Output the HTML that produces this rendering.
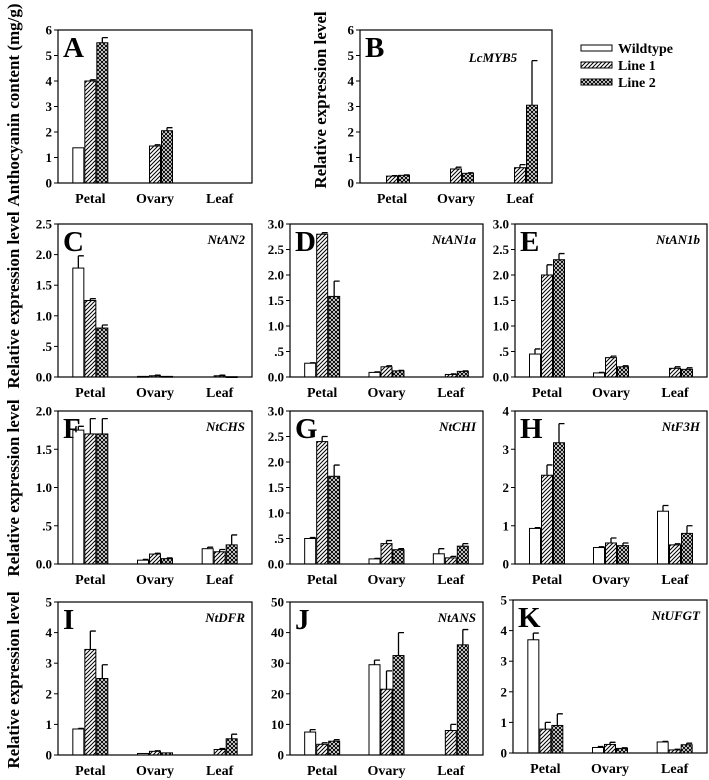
<!DOCTYPE html>
<html><head><meta charset="utf-8"><style>
html,body{margin:0;padding:0;background:#fff;}
svg{display:block;}
text{font-family:"Liberation Serif",serif;}
</style></head><body>
<svg id="fig" width="709" height="780" viewBox="0 0 709 780" xmlns="http://www.w3.org/2000/svg">
<defs>
<pattern id="hatch" patternUnits="userSpaceOnUse" width="4" height="4">
<rect width="4" height="4" fill="#fff"/>
<path d="M-1,1 l2,-2 M0,4 l4,-4 M3,5 l2,-2" stroke="#000" stroke-width="1"/>
</pattern>
<pattern id="cross" patternUnits="userSpaceOnUse" width="4" height="4">
<rect width="4" height="4" fill="#fff"/>
<path d="M0,0 l4,4 M4,0 l-4,4" stroke="#000" stroke-width="1"/>
</pattern>
</defs>
</svg>
<script>
const categories = ["Petal","Ovary","Leaf"];
const seriesNames = ["Wildtype","Line 1","Line 2"];
// values: [series][category]
const A_vals = [[1.38,0,0],[4.0,1.45,0],[5.5,2.05,0]];
const A_err  = [[0,0,0],[0.05,0.05,0],[0.2,0.12,0]];
const A_ticks = ["0","1","2","3","4","5","6"];
const B_vals = [[0,0,0],[0.27,0.55,0.6],[0.3,0.38,3.05]];
const B_err  = [[0,0,0],[0.02,0.07,0.12],[0.02,0.02,1.75]];
const B_ticks = ["0","1","2","3","4","5","6"];
const C_vals = [[1.78,0.01,0],[1.25,0.02,0.02],[0.8,0.01,0.005]];
const C_err  = [[0.2,0,0],[0.03,0.01,0.01],[0.05,0,0]];
const C_ticks = ["0.0",".5","1.0","1.5","2.0","2.5"];
const D_vals = [[0.27,0.09,0],[2.8,0.2,0.05],[1.58,0.12,0.11]];
const D_err  = [[0.01,0.01,0],[0.03,0.02,0.01],[0.3,0.01,0.01]];
const D_ticks = ["0.0",".5","1.0","1.5","2.0","2.5","3.0"];
const E_vals = [[0.45,0.08,0],[2.0,0.38,0.17],[2.3,0.2,0.15]];
const E_err  = [[0.1,0.01,0],[0.2,0.03,0.03],[0.12,0.02,0.03]];
const E_ticks = ["0.0",".5","1.0","1.5","2.0","2.5","3.0"];
const F_vals = [[1.75,0.05,0.2],[1.7,0.13,0.16],[1.7,0.07,0.25]];
const F_err  = [[0.05,0.01,0.02],[0.2,0.01,0.03],[0.2,0.01,0.13]];
const F_ticks = ["0.0",".5","1.0","1.5","2.0"];
const G_vals = [[0.5,0.1,0.2],[2.4,0.4,0.12],[1.72,0.28,0.35]];
const G_err  = [[0.02,0.01,0.1],[0.1,0.06,0.03],[0.22,0.02,0.05]];
const G_ticks = ["0.0",".5","1.0","1.5","2.0","2.5","3.0"];
const H_vals = [[0.93,0.43,1.38],[2.32,0.55,0.5],[3.17,0.48,0.8]];
const H_err  = [[0.02,0.02,0.15],[0.27,0.13,0.03],[0.5,0.07,0.2]];
const H_ticks = ["0","1","2","3","4"];
const I_vals = [[0.85,0.05,0],[3.45,0.12,0.18],[2.5,0.07,0.53]];
const I_err  = [[0.02,0,0],[0.6,0.02,0.03],[0.45,0,0.15]];
const I_ticks = ["0","1","2","3","4","5"];
const J_vals = [[7.5,29.5,0],[3.5,21.5,8],[4.5,32.5,36]];
const J_err  = [[0.8,1.5,0],[0.5,6,2],[0.5,7.5,5]];
const J_ticks = ["0","10","20","30","40","50"];
const K_vals = [[3.7,0.18,0.36],[0.78,0.28,0.1],[0.9,0.15,0.27]];
const K_err  = [[0.22,0.03,0.02],[0.22,0.07,0.02],[0.38,0.02,0.05]];
const K_ticks = ["0","1","2","3","4","5"];

const NS="http://www.w3.org/2000/svg";
const FONT='"Liberation Serif", serif';
const svg=document.getElementById('fig');
function mk(tag,attrs,parent){const e=document.createElementNS(NS,tag);for(const k in attrs)e.setAttribute(k,attrs[k]);if(tag==='text')e.setAttribute('font-family',FONT);(parent||svg).appendChild(e);return e;}
const fills=["#fff","url(#hatch)","url(#cross)"];

function panel(id,letter,gene,x0,y0,x1,y1,vals,err,ticks,geneX,geneY,geneAnchor){
  const g=mk('g',{});
  
  
  const ymax=parseFloat(ticks[ticks.length-1]);
  const ys=v=>y1-(v/ymax)*(y1-y0);
  const bw=(x1-x0)/categories.length;
  const xc=i=>x0+bw*(i+0.5);
  ticks.forEach((t)=>{
    const v=parseFloat(t.startsWith('.')?'0'+t:t);
    const y=ys(v);
    const tl=mk('line',{x1:x0-4,x2:x0,y1:y,y2:y,stroke:'#000','stroke-width':1},g);
    
    
    const tx=mk('text',{x:x0-6,y:y+4.5,'text-anchor':'end','font-size':13,'font-weight':'bold'},g);
    
    
    tx.textContent=t;
  });
  categories.forEach((c,i)=>{
    const tx=mk('text',{x:xc(i),y:y1+20,'text-anchor':'middle','font-size':14,'font-weight':'bold'},g);
    
    
    tx.textContent=c;
    for(let s=0;s<3;s++){
      const v=vals[s][i]; if(v<=0) continue;
      const bx=xc(i)-17.5+s*12;
      const y=ys(v);
      const r=mk('rect',{x:bx,y:y,width:11,height:Math.max(y1-y,0.8),fill:fills[s],stroke:'#000','stroke-width':1},g);
      
      
      const e=err[s][i];
      if(e>0){
        const ye=ys(v+e);
        const el=mk('path',{d:`M${bx+5.5},${y} V${ye} M${bx+5.5},${ye} H${bx+11}`,stroke:'#000','stroke-width':1.3,fill:'none'},g);
        
        
      }
    }
  });
  const box=mk('rect',{x:x0,y:y0,width:x1-x0,height:y1-y0,fill:'none',stroke:'#000','stroke-width':1.2},g);
  
  
  const lt=mk('text',{x:x0+5,y:y0+27,'font-size':29,'font-weight':'bold'},g);
  
  
  lt.textContent=letter;
  if(gene){
    const gt=mk('text',{x:geneX,y:geneY,'text-anchor':geneAnchor,'font-size':13,'font-weight':'bold','font-style':'italic'},g);
    
    
    gt.textContent=gene;
  }
}
const c1=[58,252],c2=[290,483],c3=[515,707];
const r1=[30,183],r2=[224,377],r3=[411,564],r4=[602,755];
panel('A','A','',c1[0],r1[0],c1[1],r1[1],A_vals,A_err,A_ticks);
panel('B','B','LcMYB5',360,r1[0],552,r1[1],B_vals,B_err,B_ticks,493,62,'middle');
panel('C','C','NtAN2',c1[0],r2[0],c1[1],r2[1],C_vals,C_err,C_ticks,c1[1]-7,r2[0]+20,'end');
panel('D','D','NtAN1a',c2[0],r2[0],c2[1],r2[1],D_vals,D_err,D_ticks,c2[1]-7,r2[0]+20,'end');
panel('E','E','NtAN1b',c3[0],r2[0],c3[1],r2[1],E_vals,E_err,E_ticks,c3[1]-7,r2[0]+20,'end');
panel('F','F','NtCHS',c1[0],r3[0],c1[1],r3[1],F_vals,F_err,F_ticks,c1[1]-7,r3[0]+20,'end');
panel('G','G','NtCHI',c2[0],r3[0],c2[1],r3[1],G_vals,G_err,G_ticks,c2[1]-7,r3[0]+20,'end');
panel('H','H','NtF3H',c3[0],r3[0],c3[1],r3[1],H_vals,H_err,H_ticks,c3[1]-7,r3[0]+20,'end');
panel('I','I','NtDFR',c1[0],r4[0],c1[1],r4[1],I_vals,I_err,I_ticks,c1[1]-7,r4[0]+20,'end');
panel('J','J','NtANS',c2[0],r4[0],c2[1],r4[1],J_vals,J_err,J_ticks,c2[1]-7,r4[0]+20,'end');
panel('K','K','NtUFGT',513,600,c3[1],753,K_vals,K_err,K_ticks,c3[1]-7,620,'end');

function ytitle(txt,x,cy,name){
  const t=mk('text',{x:0,y:0,'text-anchor':'middle','font-size':17,'font-weight':'bold',transform:`translate(${x},${cy}) rotate(-90)`});
  
  
  t.textContent=txt;
}
ytitle('Anthocyanin content (mg/g)',19,105,'y-axis-title-a');
ytitle('Relative expression level',326,100,'y-axis-title-b');
ytitle('Relative expression level',19,300,'y-axis-title-row2');
ytitle('Relative expression level',19,488,'y-axis-title-row3');
ytitle('Relative expression level',19,680,'y-axis-title-row4');

const lg=mk('g',{});


seriesNames.forEach((n,s)=>{
  const y=45+s*17;
  const r=mk('rect',{x:581,y:y,width:31,height:6,fill:fills[s],stroke:'#000','stroke-width':1},lg);
  
  
  const t=mk('text',{x:618,y:y+8,'font-size':14,'font-weight':'bold'},lg);
  
  
  t.textContent=n;
});
</script>
</body></html>
